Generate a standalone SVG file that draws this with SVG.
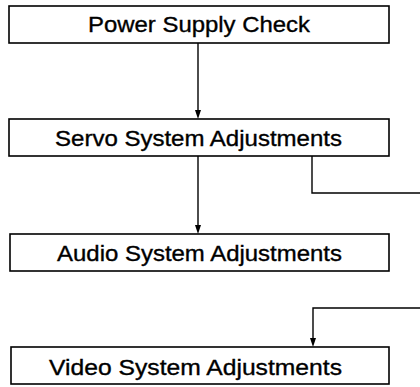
<svg xmlns="http://www.w3.org/2000/svg" width="420" height="387" viewBox="0 0 420 387">
<defs>
<style>
.box{fill:#fff;stroke:#000;stroke-width:1.6}
.lbl{font-family:"Liberation Sans",Arial,sans-serif;font-size:22px;fill:#000;stroke:#000;stroke-width:0.35;text-anchor:middle}
.con{fill:none;stroke:#000;stroke-width:1.4}
.head{fill:#000}
</style>
</defs>
<g id="connectors">
<path class="con" d="M198,43 V111"/>
<path class="head" d="M195,110 L201,110 L198,119 Z"/>
<path class="con" d="M198,156 V226"/>
<path class="head" d="M195,225 L201,225 L198,234 Z"/>
<path class="con" d="M312,156 V193 H420"/>
<path class="con" d="M420,308 H313 V339"/>
<path class="head" d="M310,338 L316,338 L313,347 Z"/>
</g>
<g id="power">
<rect class="box" x="9" y="6" width="380" height="37"/>
<text class="lbl" x="199" y="32" textLength="222" lengthAdjust="spacingAndGlyphs">Power Supply Check</text>
</g>
<g id="servo">
<rect class="box" x="9" y="119" width="380" height="37"/>
<text class="lbl" x="198.5" y="146" textLength="287" lengthAdjust="spacingAndGlyphs">Servo System Adjustments</text>
</g>
<g id="audio">
<rect class="box" x="10" y="234" width="379" height="37"/>
<text class="lbl" x="199.5" y="261" textLength="285" lengthAdjust="spacingAndGlyphs">Audio System Adjustments</text>
</g>
<g id="video">
<rect class="box" x="11" y="347" width="378" height="37"/>
<text class="lbl" x="195.5" y="375" textLength="293" lengthAdjust="spacingAndGlyphs">Video System Adjustments</text>
</g>
</svg>
